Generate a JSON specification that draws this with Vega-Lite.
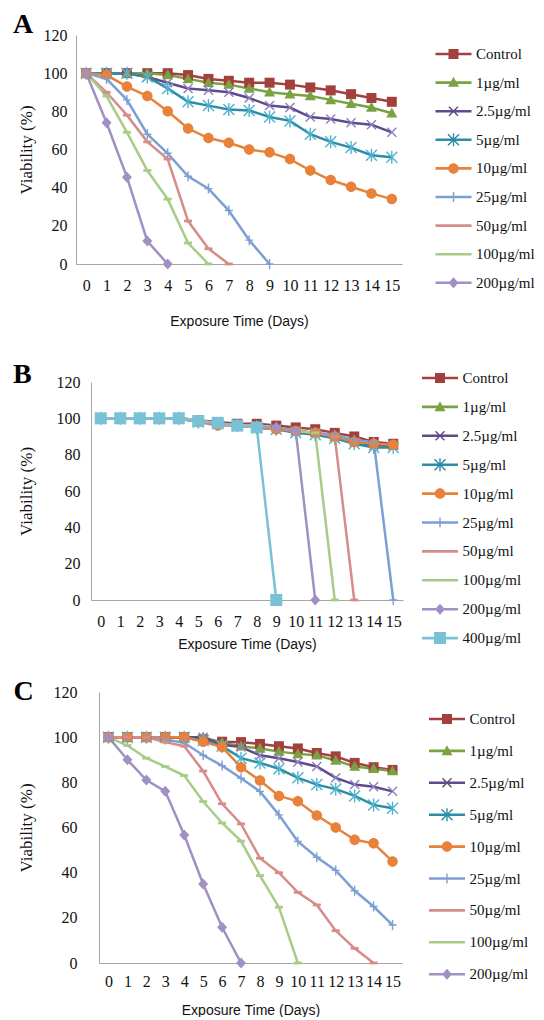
{
"$schema":"https://vega.github.io/schema/vega-lite/v6.json",
"background":"white",
"padding":{"left":0,"top":11,"right":0,"bottom":0},
"config":{"view":{"stroke":null},
"axis":{"domainColor":"#a6a6a6","ticks":false,"grid":false,"labelFont":"Liberation Serif","labelFontSize":16,"labelColor":"#111","titleFontWeight":"normal","titleColor":"#111"},
"axisX":{"titleFont":"Liberation Sans","titleFontSize":14,"labelAngle":0},
"axisY":{"titleFont":"Liberation Serif","titleFontSize":17},
"legend":{"title":null,"padding":0,"labelFont":"Liberation Serif","labelFontSize":15,"labelColor":"#111","symbolSize":100,"symbolStrokeWidth":0,"symbolOffset":14,"labelOffset":15},
"title":{"font":"Liberation Serif","fontSize":28,"fontWeight":"bold","anchor":"start","frame":"bounds","color":"#000","baseline":"alphabetic","dx":-4}},
"datasets":{
"A":[
{"series":"Control","day":0,"viability":100},{"series":"Control","day":1,"viability":100},{"series":"Control","day":2,"viability":100},{"series":"Control","day":3,"viability":100},{"series":"Control","day":4,"viability":100},{"series":"Control","day":5,"viability":99},{"series":"Control","day":6,"viability":97},{"series":"Control","day":7,"viability":96},{"series":"Control","day":8,"viability":95},{"series":"Control","day":9,"viability":95},{"series":"Control","day":10,"viability":94},{"series":"Control","day":11,"viability":92.5},{"series":"Control","day":12,"viability":91},{"series":"Control","day":13,"viability":89},{"series":"Control","day":14,"viability":87},{"series":"Control","day":15,"viability":85},
{"series":"1µg/ml","day":0,"viability":100},{"series":"1µg/ml","day":1,"viability":100},{"series":"1µg/ml","day":2,"viability":100},{"series":"1µg/ml","day":3,"viability":100},{"series":"1µg/ml","day":4,"viability":99},{"series":"1µg/ml","day":5,"viability":97},{"series":"1µg/ml","day":6,"viability":95},{"series":"1µg/ml","day":7,"viability":94},{"series":"1µg/ml","day":8,"viability":92},{"series":"1µg/ml","day":9,"viability":90},{"series":"1µg/ml","day":10,"viability":89},{"series":"1µg/ml","day":11,"viability":88},{"series":"1µg/ml","day":12,"viability":86},{"series":"1µg/ml","day":13,"viability":84},{"series":"1µg/ml","day":14,"viability":82},{"series":"1µg/ml","day":15,"viability":79},
{"series":"2.5µg/ml","day":0,"viability":100},{"series":"2.5µg/ml","day":1,"viability":100},{"series":"2.5µg/ml","day":2,"viability":100},{"series":"2.5µg/ml","day":3,"viability":98},{"series":"2.5µg/ml","day":4,"viability":95},{"series":"2.5µg/ml","day":5,"viability":92},{"series":"2.5µg/ml","day":6,"viability":91},{"series":"2.5µg/ml","day":7,"viability":90},{"series":"2.5µg/ml","day":8,"viability":87},{"series":"2.5µg/ml","day":9,"viability":83},{"series":"2.5µg/ml","day":10,"viability":82},{"series":"2.5µg/ml","day":11,"viability":77},{"series":"2.5µg/ml","day":12,"viability":76},{"series":"2.5µg/ml","day":13,"viability":74},{"series":"2.5µg/ml","day":14,"viability":73},{"series":"2.5µg/ml","day":15,"viability":69},
{"series":"5µg/ml","day":0,"viability":100},{"series":"5µg/ml","day":1,"viability":100},{"series":"5µg/ml","day":2,"viability":100},{"series":"5µg/ml","day":3,"viability":98},{"series":"5µg/ml","day":4,"viability":92},{"series":"5µg/ml","day":5,"viability":85},{"series":"5µg/ml","day":6,"viability":83},{"series":"5µg/ml","day":7,"viability":81},{"series":"5µg/ml","day":8,"viability":80.5},{"series":"5µg/ml","day":9,"viability":77},{"series":"5µg/ml","day":10,"viability":75},{"series":"5µg/ml","day":11,"viability":68},{"series":"5µg/ml","day":12,"viability":64},{"series":"5µg/ml","day":13,"viability":61},{"series":"5µg/ml","day":14,"viability":57},{"series":"5µg/ml","day":15,"viability":56},
{"series":"10µg/ml","day":0,"viability":100},{"series":"10µg/ml","day":1,"viability":99},{"series":"10µg/ml","day":2,"viability":93},{"series":"10µg/ml","day":3,"viability":88},{"series":"10µg/ml","day":4,"viability":80},{"series":"10µg/ml","day":5,"viability":71},{"series":"10µg/ml","day":6,"viability":66},{"series":"10µg/ml","day":7,"viability":63.5},{"series":"10µg/ml","day":8,"viability":60},{"series":"10µg/ml","day":9,"viability":58.5},{"series":"10µg/ml","day":10,"viability":55},{"series":"10µg/ml","day":11,"viability":49},{"series":"10µg/ml","day":12,"viability":44},{"series":"10µg/ml","day":13,"viability":40.5},{"series":"10µg/ml","day":14,"viability":37},{"series":"10µg/ml","day":15,"viability":34},
{"series":"25µg/ml","day":0,"viability":100},{"series":"25µg/ml","day":1,"viability":97},{"series":"25µg/ml","day":2,"viability":86},{"series":"25µg/ml","day":3,"viability":68},{"series":"25µg/ml","day":4,"viability":58},{"series":"25µg/ml","day":5,"viability":46},{"series":"25µg/ml","day":6,"viability":39.5},{"series":"25µg/ml","day":7,"viability":28},{"series":"25µg/ml","day":8,"viability":12.5},{"series":"25µg/ml","day":9,"viability":0},
{"series":"50µg/ml","day":0,"viability":100},{"series":"50µg/ml","day":1,"viability":90},{"series":"50µg/ml","day":2,"viability":78},{"series":"50µg/ml","day":3,"viability":64},{"series":"50µg/ml","day":4,"viability":55},{"series":"50µg/ml","day":5,"viability":22.5},{"series":"50µg/ml","day":6,"viability":8},{"series":"50µg/ml","day":7,"viability":0},
{"series":"100µg/ml","day":0,"viability":100},{"series":"100µg/ml","day":1,"viability":88},{"series":"100µg/ml","day":2,"viability":69},{"series":"100µg/ml","day":3,"viability":49},{"series":"100µg/ml","day":4,"viability":34},{"series":"100µg/ml","day":5,"viability":11},{"series":"100µg/ml","day":6,"viability":0},
{"series":"200µg/ml","day":0,"viability":100},{"series":"200µg/ml","day":1,"viability":74},{"series":"200µg/ml","day":2,"viability":45.5},{"series":"200µg/ml","day":3,"viability":12},{"series":"200µg/ml","day":4,"viability":0}
],
"B":[
{"series":"Control","day":0,"viability":100},{"series":"Control","day":1,"viability":100},{"series":"Control","day":2,"viability":100},{"series":"Control","day":3,"viability":100},{"series":"Control","day":4,"viability":100},{"series":"Control","day":5,"viability":99},{"series":"Control","day":6,"viability":98},{"series":"Control","day":7,"viability":97},{"series":"Control","day":8,"viability":97},{"series":"Control","day":9,"viability":96},{"series":"Control","day":10,"viability":95},{"series":"Control","day":11,"viability":94},{"series":"Control","day":12,"viability":92},{"series":"Control","day":13,"viability":90},{"series":"Control","day":14,"viability":87},{"series":"Control","day":15,"viability":86},
{"series":"1µg/ml","day":0,"viability":100},{"series":"1µg/ml","day":1,"viability":100},{"series":"1µg/ml","day":2,"viability":100},{"series":"1µg/ml","day":3,"viability":100},{"series":"1µg/ml","day":4,"viability":100},{"series":"1µg/ml","day":5,"viability":99},{"series":"1µg/ml","day":6,"viability":97},{"series":"1µg/ml","day":7,"viability":96},{"series":"1µg/ml","day":8,"viability":96},{"series":"1µg/ml","day":9,"viability":95},{"series":"1µg/ml","day":10,"viability":93},{"series":"1µg/ml","day":11,"viability":92},{"series":"1µg/ml","day":12,"viability":90},{"series":"1µg/ml","day":13,"viability":88},{"series":"1µg/ml","day":14,"viability":86},{"series":"1µg/ml","day":15,"viability":85},
{"series":"2.5µg/ml","day":0,"viability":100},{"series":"2.5µg/ml","day":1,"viability":100},{"series":"2.5µg/ml","day":2,"viability":100},{"series":"2.5µg/ml","day":3,"viability":100},{"series":"2.5µg/ml","day":4,"viability":100},{"series":"2.5µg/ml","day":5,"viability":98},{"series":"2.5µg/ml","day":6,"viability":97},{"series":"2.5µg/ml","day":7,"viability":96},{"series":"2.5µg/ml","day":8,"viability":95},{"series":"2.5µg/ml","day":9,"viability":94},{"series":"2.5µg/ml","day":10,"viability":93},{"series":"2.5µg/ml","day":11,"viability":92},{"series":"2.5µg/ml","day":12,"viability":89},{"series":"2.5µg/ml","day":13,"viability":87},{"series":"2.5µg/ml","day":14,"viability":85},{"series":"2.5µg/ml","day":15,"viability":85},
{"series":"5µg/ml","day":0,"viability":100},{"series":"5µg/ml","day":1,"viability":100},{"series":"5µg/ml","day":2,"viability":100},{"series":"5µg/ml","day":3,"viability":100},{"series":"5µg/ml","day":4,"viability":100},{"series":"5µg/ml","day":5,"viability":98},{"series":"5µg/ml","day":6,"viability":97},{"series":"5µg/ml","day":7,"viability":96},{"series":"5µg/ml","day":8,"viability":95},{"series":"5µg/ml","day":9,"viability":94},{"series":"5µg/ml","day":10,"viability":92},{"series":"5µg/ml","day":11,"viability":91},{"series":"5µg/ml","day":12,"viability":89},{"series":"5µg/ml","day":13,"viability":86},{"series":"5µg/ml","day":14,"viability":84},{"series":"5µg/ml","day":15,"viability":84},
{"series":"10µg/ml","day":0,"viability":100},{"series":"10µg/ml","day":1,"viability":100},{"series":"10µg/ml","day":2,"viability":100},{"series":"10µg/ml","day":3,"viability":100},{"series":"10µg/ml","day":4,"viability":100},{"series":"10µg/ml","day":5,"viability":98},{"series":"10µg/ml","day":6,"viability":96},{"series":"10µg/ml","day":7,"viability":96},{"series":"10µg/ml","day":8,"viability":95},{"series":"10µg/ml","day":9,"viability":94},{"series":"10µg/ml","day":10,"viability":93},{"series":"10µg/ml","day":11,"viability":92},{"series":"10µg/ml","day":12,"viability":90},{"series":"10µg/ml","day":13,"viability":87},{"series":"10µg/ml","day":14,"viability":86},{"series":"10µg/ml","day":15,"viability":85.5},
{"series":"25µg/ml","day":0,"viability":100},{"series":"25µg/ml","day":1,"viability":100},{"series":"25µg/ml","day":2,"viability":100},{"series":"25µg/ml","day":3,"viability":100},{"series":"25µg/ml","day":4,"viability":100},{"series":"25µg/ml","day":5,"viability":99},{"series":"25µg/ml","day":6,"viability":97},{"series":"25µg/ml","day":7,"viability":96},{"series":"25µg/ml","day":8,"viability":96},{"series":"25µg/ml","day":9,"viability":95},{"series":"25µg/ml","day":10,"viability":93},{"series":"25µg/ml","day":11,"viability":92},{"series":"25µg/ml","day":12,"viability":91},{"series":"25µg/ml","day":13,"viability":88},{"series":"25µg/ml","day":14,"viability":87},{"series":"25µg/ml","day":15,"viability":0},
{"series":"50µg/ml","day":0,"viability":100},{"series":"50µg/ml","day":1,"viability":100},{"series":"50µg/ml","day":2,"viability":100},{"series":"50µg/ml","day":3,"viability":100},{"series":"50µg/ml","day":4,"viability":100},{"series":"50µg/ml","day":5,"viability":99},{"series":"50µg/ml","day":6,"viability":97},{"series":"50µg/ml","day":7,"viability":96},{"series":"50µg/ml","day":8,"viability":96},{"series":"50µg/ml","day":9,"viability":95},{"series":"50µg/ml","day":10,"viability":93},{"series":"50µg/ml","day":11,"viability":92},{"series":"50µg/ml","day":12,"viability":90},{"series":"50µg/ml","day":13,"viability":0},
{"series":"100µg/ml","day":0,"viability":100},{"series":"100µg/ml","day":1,"viability":100},{"series":"100µg/ml","day":2,"viability":100},{"series":"100µg/ml","day":3,"viability":100},{"series":"100µg/ml","day":4,"viability":100},{"series":"100µg/ml","day":5,"viability":99},{"series":"100µg/ml","day":6,"viability":97},{"series":"100µg/ml","day":7,"viability":96},{"series":"100µg/ml","day":8,"viability":96},{"series":"100µg/ml","day":9,"viability":95},{"series":"100µg/ml","day":10,"viability":93},{"series":"100µg/ml","day":11,"viability":92},{"series":"100µg/ml","day":12,"viability":0},
{"series":"200µg/ml","day":0,"viability":100},{"series":"200µg/ml","day":1,"viability":100},{"series":"200µg/ml","day":2,"viability":100},{"series":"200µg/ml","day":3,"viability":100},{"series":"200µg/ml","day":4,"viability":100},{"series":"200µg/ml","day":5,"viability":98},{"series":"200µg/ml","day":6,"viability":97},{"series":"200µg/ml","day":7,"viability":96},{"series":"200µg/ml","day":8,"viability":95},{"series":"200µg/ml","day":9,"viability":95},{"series":"200µg/ml","day":10,"viability":93},{"series":"200µg/ml","day":11,"viability":0},
{"series":"400µg/ml","day":0,"viability":100},{"series":"400µg/ml","day":1,"viability":100},{"series":"400µg/ml","day":2,"viability":100},{"series":"400µg/ml","day":3,"viability":100},{"series":"400µg/ml","day":4,"viability":100},{"series":"400µg/ml","day":5,"viability":98.5},{"series":"400µg/ml","day":6,"viability":97.5},{"series":"400µg/ml","day":7,"viability":96},{"series":"400µg/ml","day":8,"viability":95},{"series":"400µg/ml","day":9,"viability":0}
],
"C":[
{"series":"Control","day":0,"viability":100},{"series":"Control","day":1,"viability":100},{"series":"Control","day":2,"viability":100},{"series":"Control","day":3,"viability":100},{"series":"Control","day":4,"viability":100},{"series":"Control","day":5,"viability":99},{"series":"Control","day":6,"viability":98},{"series":"Control","day":7,"viability":97.8},{"series":"Control","day":8,"viability":97},{"series":"Control","day":9,"viability":96},{"series":"Control","day":10,"viability":95},{"series":"Control","day":11,"viability":93},{"series":"Control","day":12,"viability":91.5},{"series":"Control","day":13,"viability":88.6},{"series":"Control","day":14,"viability":86.7},{"series":"Control","day":15,"viability":85.5},
{"series":"1µg/ml","day":0,"viability":100},{"series":"1µg/ml","day":1,"viability":100},{"series":"1µg/ml","day":2,"viability":100},{"series":"1µg/ml","day":3,"viability":100},{"series":"1µg/ml","day":4,"viability":100},{"series":"1µg/ml","day":5,"viability":100},{"series":"1µg/ml","day":6,"viability":97.5},{"series":"1µg/ml","day":7,"viability":96},{"series":"1µg/ml","day":8,"viability":95},{"series":"1µg/ml","day":9,"viability":93.6},{"series":"1µg/ml","day":10,"viability":92.6},{"series":"1µg/ml","day":11,"viability":92},{"series":"1µg/ml","day":12,"viability":89.7},{"series":"1µg/ml","day":13,"viability":87},{"series":"1µg/ml","day":14,"viability":86},{"series":"1µg/ml","day":15,"viability":85},
{"series":"2.5µg/ml","day":0,"viability":100},{"series":"2.5µg/ml","day":1,"viability":100},{"series":"2.5µg/ml","day":2,"viability":100},{"series":"2.5µg/ml","day":3,"viability":100},{"series":"2.5µg/ml","day":4,"viability":100},{"series":"2.5µg/ml","day":5,"viability":100},{"series":"2.5µg/ml","day":6,"viability":96.6},{"series":"2.5µg/ml","day":7,"viability":95.6},{"series":"2.5µg/ml","day":8,"viability":92},{"series":"2.5µg/ml","day":9,"viability":90.7},{"series":"2.5µg/ml","day":10,"viability":89},{"series":"2.5µg/ml","day":11,"viability":87},{"series":"2.5µg/ml","day":12,"viability":82},{"series":"2.5µg/ml","day":13,"viability":79},{"series":"2.5µg/ml","day":14,"viability":78},{"series":"2.5µg/ml","day":15,"viability":76},
{"series":"5µg/ml","day":0,"viability":100},{"series":"5µg/ml","day":1,"viability":100},{"series":"5µg/ml","day":2,"viability":100},{"series":"5µg/ml","day":3,"viability":100},{"series":"5µg/ml","day":4,"viability":100},{"series":"5µg/ml","day":5,"viability":98.5},{"series":"5µg/ml","day":6,"viability":96},{"series":"5µg/ml","day":7,"viability":90.7},{"series":"5µg/ml","day":8,"viability":88.6},{"series":"5µg/ml","day":9,"viability":86},{"series":"5µg/ml","day":10,"viability":82},{"series":"5µg/ml","day":11,"viability":79},{"series":"5µg/ml","day":12,"viability":77},{"series":"5µg/ml","day":13,"viability":74},{"series":"5µg/ml","day":14,"viability":70},{"series":"5µg/ml","day":15,"viability":68.5},
{"series":"10µg/ml","day":0,"viability":100},{"series":"10µg/ml","day":1,"viability":100},{"series":"10µg/ml","day":2,"viability":100},{"series":"10µg/ml","day":3,"viability":100},{"series":"10µg/ml","day":4,"viability":100},{"series":"10µg/ml","day":5,"viability":98},{"series":"10µg/ml","day":6,"viability":95.6},{"series":"10µg/ml","day":7,"viability":86.7},{"series":"10µg/ml","day":8,"viability":80.8},{"series":"10µg/ml","day":9,"viability":74},{"series":"10µg/ml","day":10,"viability":71.6},{"series":"10µg/ml","day":11,"viability":65.3},{"series":"10µg/ml","day":12,"viability":60},{"series":"10µg/ml","day":13,"viability":54.6},{"series":"10µg/ml","day":14,"viability":53},{"series":"10µg/ml","day":15,"viability":45},
{"series":"25µg/ml","day":0,"viability":100},{"series":"25µg/ml","day":1,"viability":100},{"series":"25µg/ml","day":2,"viability":100},{"series":"25µg/ml","day":3,"viability":99},{"series":"25µg/ml","day":4,"viability":97.5},{"series":"25µg/ml","day":5,"viability":92},{"series":"25µg/ml","day":6,"viability":87.4},{"series":"25µg/ml","day":7,"viability":81.8},{"series":"25µg/ml","day":8,"viability":76},{"series":"25µg/ml","day":9,"viability":65.6},{"series":"25µg/ml","day":10,"viability":53.8},{"series":"25µg/ml","day":11,"viability":46.8},{"series":"25µg/ml","day":12,"viability":41},{"series":"25µg/ml","day":13,"viability":32},{"series":"25µg/ml","day":14,"viability":25},{"series":"25µg/ml","day":15,"viability":16.8},
{"series":"50µg/ml","day":0,"viability":100},{"series":"50µg/ml","day":1,"viability":100},{"series":"50µg/ml","day":2,"viability":100},{"series":"50µg/ml","day":3,"viability":97.8},{"series":"50µg/ml","day":4,"viability":96},{"series":"50µg/ml","day":5,"viability":85},{"series":"50µg/ml","day":6,"viability":70.5},{"series":"50µg/ml","day":7,"viability":61.6},{"series":"50µg/ml","day":8,"viability":46.4},{"series":"50µg/ml","day":9,"viability":40},{"series":"50µg/ml","day":10,"viability":31.3},{"series":"50µg/ml","day":11,"viability":25.7},{"series":"50µg/ml","day":12,"viability":14.3},{"series":"50µg/ml","day":13,"viability":6.5},{"series":"50µg/ml","day":14,"viability":0},
{"series":"100µg/ml","day":0,"viability":100},{"series":"100µg/ml","day":1,"viability":96.3},{"series":"100µg/ml","day":2,"viability":90.7},{"series":"100µg/ml","day":3,"viability":87},{"series":"100µg/ml","day":4,"viability":83},{"series":"100µg/ml","day":5,"viability":71.5},{"series":"100µg/ml","day":6,"viability":62},{"series":"100µg/ml","day":7,"viability":54},{"series":"100µg/ml","day":8,"viability":38.7},{"series":"100µg/ml","day":9,"viability":24.7},{"series":"100µg/ml","day":10,"viability":0},
{"series":"200µg/ml","day":0,"viability":100},{"series":"200µg/ml","day":1,"viability":90},{"series":"200µg/ml","day":2,"viability":81},{"series":"200µg/ml","day":3,"viability":76},{"series":"200µg/ml","day":4,"viability":56.7},{"series":"200µg/ml","day":5,"viability":35},{"series":"200µg/ml","day":6,"viability":15.8},{"series":"200µg/ml","day":7,"viability":0}
]},
"vconcat":[
{"hconcat":[{"width":12.5,"height":1,"data":{"values":[]},"mark":"point"},
{"title":{"text":"A","offset":-12},"width":326,"height":229,"data":{"name":"A"},
"encoding":{"x":{"field":"day","type":"ordinal","scale":{"type":"point","padding":0.5},"axis":{"title":["Exposure Time (Days)"," "],"titleLineHeight":6,"labelFont":"Liberation Serif","labelPadding":13,"titlePadding":21}},
"y":{"field":"viability","type":"quantitative","scale":{"domain":[0,120],"nice":false},"axis":{"title":"Viability (%)","titleFont":"Liberation Serif","labelFont":"Liberation Serif","values":[0,20,40,60,80,100,120],"labelPadding":9,"titlePadding":8}}},
"layer":[
{"mark":{"type":"line","strokeWidth":2.5},"encoding":{"detail":{"field":"series"},"color":{"condition":[{"test":"datum.series==='Control'","value":"#a33f3d"},{"test":"datum.series==='1µg/ml'","value":"#79a342"},{"test":"datum.series==='2.5µg/ml'","value":"#5f4b8b"},{"test":"datum.series==='5µg/ml'","value":"#2e8ca5"},{"test":"datum.series==='10µg/ml'","value":"#e8823a"},{"test":"datum.series==='25µg/ml'","value":"#7c9fd4"},{"test":"datum.series==='50µg/ml'","value":"#d68c89"},{"test":"datum.series==='100µg/ml'","value":"#a8cc88"}],"value":"#a090c4"}}},
{"mark":{"type":"point","filled":true,"size":100,"opacity":1},"encoding":{
"color":{"condition":[{"test":"datum.series==='Control'","value":"#a33f3d"},{"test":"datum.series==='1µg/ml'","value":"#79a342"},{"test":"datum.series==='2.5µg/ml'","value":"#8f7fbf"},{"test":"datum.series==='5µg/ml'","value":"#4fb3cf"},{"test":"datum.series==='10µg/ml'","value":"#e8823a"},{"test":"datum.series==='25µg/ml'","value":"#7c9fd4"},{"test":"datum.series==='50µg/ml'","value":"#d68c89"},{"test":"datum.series==='100µg/ml'","value":"#a8cc88"}],"value":"#a090c4"},
"shape":{"condition":[{"test":"datum.series==='Control'","value":"M-1,-1H1V1H-1Z"},{"test":"datum.series==='1µg/ml'","value":"M0,-1.15L1.1,0.85H-1.1Z"},{"test":"datum.series==='2.5µg/ml'","value":"M-1,-0.8L-0.8,-1L1,0.8L0.8,1Z M-1,0.8L0.8,-1L1,-0.8L-0.8,1Z"},{"test":"datum.series==='5µg/ml'","value":"M-1.2,-1L-1,-1.2L1.2,1L1,1.2Z M-1.2,1L1,-1.2L1.2,-1L-1,1.2Z M-0.14,-1.3H0.14V1.3H-0.14Z"},{"test":"datum.series==='10µg/ml'","value":"M1.05,0A1.05,1.05 0 1,1 -1.05,0A1.05,1.05 0 1,1 1.05,0Z"},{"test":"datum.series==='25µg/ml'","value":"M-0.14,-1H0.14V1H-0.14Z M-0.8,-0.14H0.8V0.14H-0.8Z"},{"test":"datum.series==='50µg/ml'","value":"M-0.8,-0.28H0.8V0.28H-0.8Z"},{"test":"datum.series==='100µg/ml'","value":"M-0.8,-0.28H0.8V0.28H-0.8Z"}],"value":"M0,-1.1L1,0L0,1.1L-1,0Z"}}},
{"transform":[{"filter":"false"}],"mark":{"type":"point","filled":true,"size":100,"opacity":1},"encoding":{
"color":{"field":"series","type":"nominal","scale":{"domain":["Control","1µg/ml","2.5µg/ml","5µg/ml","10µg/ml","25µg/ml","50µg/ml","100µg/ml","200µg/ml"],"range":["#a33f3d","#79a342","#5f4b8b","#2e8ca5","#e8823a","#7c9fd4","#d68c89","#a8cc88","#a090c4"]},"legend":{"orient":"none","legendX":432,"legendY":11.5,"rowPadding":12.6}},
"shape":{"field":"series","type":"nominal","scale":{"domain":["Control","1µg/ml","2.5µg/ml","5µg/ml","10µg/ml","25µg/ml","50µg/ml","100µg/ml","200µg/ml"],"range":["M-1,-1H1V1H-1Z M-3.6,-0.26H3.6V0.26H-3.6Z","M0,-1.15L1.1,0.85H-1.1Z M-3.6,-0.26H3.6V0.26H-3.6Z","M-1,-0.8L-0.8,-1L1,0.8L0.8,1Z M-1,0.8L0.8,-1L1,-0.8L-0.8,1Z M-3.6,-0.26H3.6V0.26H-3.6Z","M-1.2,-1L-1,-1.2L1.2,1L1,1.2Z M-1.2,1L1,-1.2L1.2,-1L-1,1.2Z M-0.14,-1.3H0.14V1.3H-0.14Z M-3.6,-0.26H3.6V0.26H-3.6Z","M1.05,0A1.05,1.05 0 1,1 -1.05,0A1.05,1.05 0 1,1 1.05,0Z M-3.6,-0.26H3.6V0.26H-3.6Z","M-0.14,-1H0.14V1H-0.14Z M-0.8,-0.14H0.8V0.14H-0.8Z M-3.6,-0.26H3.6V0.26H-3.6Z","M-3.6,-0.26H3.6V0.26H-3.6Z","M-3.6,-0.26H3.6V0.26H-3.6Z","M0,-1.1L1,0L0,1.1L-1,0Z M-3.6,-0.26H3.6V0.26H-3.6Z"]},"legend":{"orient":"none","legendX":432,"legendY":11.5,"rowPadding":12.6}}}}
]}],"spacing":0},
{"hconcat":[{"width":12.5,"height":1,"data":{"values":[]},"mark":"point"},
{"title":{"text":"B","offset":-15},"width":312,"height":218,"data":{"name":"B"},
"encoding":{"x":{"field":"day","type":"ordinal","scale":{"type":"point","padding":0.5},"axis":{"title":"Exposure Time (Days)","labelFont":"Liberation Serif","labelPadding":13,"titlePadding":8}},
"y":{"field":"viability","type":"quantitative","scale":{"domain":[0,120],"nice":false},"axis":{"title":"Viability (%)","titleFont":"Liberation Serif","labelFont":"Liberation Serif","values":[0,20,40,60,80,100,120],"labelPadding":11,"titlePadding":21}}},
"layer":[
{"mark":{"type":"line","strokeWidth":2.5},"encoding":{"detail":{"field":"series"},"color":{"condition":[{"test":"datum.series==='Control'","value":"#a33f3d"},{"test":"datum.series==='1µg/ml'","value":"#79a342"},{"test":"datum.series==='2.5µg/ml'","value":"#5f4b8b"},{"test":"datum.series==='5µg/ml'","value":"#2e8ca5"},{"test":"datum.series==='10µg/ml'","value":"#e8823a"},{"test":"datum.series==='25µg/ml'","value":"#7c9fd4"},{"test":"datum.series==='50µg/ml'","value":"#d68c89"},{"test":"datum.series==='100µg/ml'","value":"#a8cc88"},{"test":"datum.series==='200µg/ml'","value":"#a090c4"}],"value":"#79c1d4"}}},
{"mark":{"type":"point","filled":true,"size":100,"opacity":1},"encoding":{
"color":{"condition":[{"test":"datum.series==='Control'","value":"#a33f3d"},{"test":"datum.series==='1µg/ml'","value":"#79a342"},{"test":"datum.series==='2.5µg/ml'","value":"#8f7fbf"},{"test":"datum.series==='5µg/ml'","value":"#4fb3cf"},{"test":"datum.series==='10µg/ml'","value":"#e8823a"},{"test":"datum.series==='25µg/ml'","value":"#7c9fd4"},{"test":"datum.series==='50µg/ml'","value":"#d68c89"},{"test":"datum.series==='100µg/ml'","value":"#a8cc88"},{"test":"datum.series==='200µg/ml'","value":"#a090c4"}],"value":"#79c1d4"},
"shape":{"condition":[{"test":"datum.series==='Control'","value":"M-1,-1H1V1H-1Z"},{"test":"datum.series==='1µg/ml'","value":"M0,-1.15L1.1,0.85H-1.1Z"},{"test":"datum.series==='2.5µg/ml'","value":"M-1,-0.8L-0.8,-1L1,0.8L0.8,1Z M-1,0.8L0.8,-1L1,-0.8L-0.8,1Z"},{"test":"datum.series==='5µg/ml'","value":"M-1.2,-1L-1,-1.2L1.2,1L1,1.2Z M-1.2,1L1,-1.2L1.2,-1L-1,1.2Z M-0.14,-1.3H0.14V1.3H-0.14Z"},{"test":"datum.series==='10µg/ml'","value":"M1.05,0A1.05,1.05 0 1,1 -1.05,0A1.05,1.05 0 1,1 1.05,0Z"},{"test":"datum.series==='25µg/ml'","value":"M-0.14,-1H0.14V1H-0.14Z M-0.8,-0.14H0.8V0.14H-0.8Z"},{"test":"datum.series==='50µg/ml'","value":"M-0.8,-0.28H0.8V0.28H-0.8Z"},{"test":"datum.series==='100µg/ml'","value":"M-0.8,-0.28H0.8V0.28H-0.8Z"},{"test":"datum.series==='200µg/ml'","value":"M0,-1.1L1,0L0,1.1L-1,0Z"}],"value":"M-1.2,-1.2H1.2V1.2H-1.2Z"}}},
{"transform":[{"filter":"false"}],"mark":{"type":"point","filled":true,"size":100,"opacity":1},"encoding":{
"color":{"field":"series","type":"nominal","scale":{"domain":["Control","1µg/ml","2.5µg/ml","5µg/ml","10µg/ml","25µg/ml","50µg/ml","100µg/ml","200µg/ml","400µg/ml"],"range":["#a33f3d","#79a342","#5f4b8b","#2e8ca5","#e8823a","#7c9fd4","#d68c89","#a8cc88","#a090c4","#79c1d4"]},"legend":{"orient":"none","legendX":418.5,"legendY":-11.5,"rowPadding":12.9}},
"shape":{"field":"series","type":"nominal","scale":{"domain":["Control","1µg/ml","2.5µg/ml","5µg/ml","10µg/ml","25µg/ml","50µg/ml","100µg/ml","200µg/ml","400µg/ml"],"range":["M-1,-1H1V1H-1Z M-3.6,-0.26H3.6V0.26H-3.6Z","M0,-1.15L1.1,0.85H-1.1Z M-3.6,-0.26H3.6V0.26H-3.6Z","M-1,-0.8L-0.8,-1L1,0.8L0.8,1Z M-1,0.8L0.8,-1L1,-0.8L-0.8,1Z M-3.6,-0.26H3.6V0.26H-3.6Z","M-1.2,-1L-1,-1.2L1.2,1L1,1.2Z M-1.2,1L1,-1.2L1.2,-1L-1,1.2Z M-0.14,-1.3H0.14V1.3H-0.14Z M-3.6,-0.26H3.6V0.26H-3.6Z","M1.05,0A1.05,1.05 0 1,1 -1.05,0A1.05,1.05 0 1,1 1.05,0Z M-3.6,-0.26H3.6V0.26H-3.6Z","M-0.14,-1H0.14V1H-0.14Z M-0.8,-0.14H0.8V0.14H-0.8Z M-3.6,-0.26H3.6V0.26H-3.6Z","M-3.6,-0.26H3.6V0.26H-3.6Z","M-3.6,-0.26H3.6V0.26H-3.6Z","M0,-1.1L1,0L0,1.1L-1,0Z M-3.6,-0.26H3.6V0.26H-3.6Z","M-1.2,-1.2H1.2V1.2H-1.2Z M-3.6,-0.26H3.6V0.26H-3.6Z"]},"legend":{"orient":"none","legendX":418.5,"legendY":-11.5,"rowPadding":12.9}}}}
]}],"spacing":0},
{"hconcat":[{"width":12.5,"height":1,"data":{"values":[]},"mark":"point"},
{"title":{"text":"C","offset":-22},"width":303,"height":271,"data":{"name":"C"},
"encoding":{"x":{"field":"day","type":"ordinal","scale":{"type":"point","padding":0.5},"axis":{"title":"Exposure Time (Days)","labelFont":"Liberation Serif","labelPadding":10,"titlePadding":14}},
"y":{"field":"viability","type":"quantitative","scale":{"domain":[0,120],"nice":false},"axis":{"title":"Viability (%)","titleFont":"Liberation Serif","labelFont":"Liberation Serif","values":[0,20,40,60,80,100,120],"labelPadding":22,"titlePadding":17.5}}},
"layer":[
{"mark":{"type":"line","strokeWidth":2.5},"encoding":{"detail":{"field":"series"},"color":{"condition":[{"test":"datum.series==='Control'","value":"#a33f3d"},{"test":"datum.series==='1µg/ml'","value":"#79a342"},{"test":"datum.series==='2.5µg/ml'","value":"#5f4b8b"},{"test":"datum.series==='5µg/ml'","value":"#2e8ca5"},{"test":"datum.series==='10µg/ml'","value":"#e8823a"},{"test":"datum.series==='25µg/ml'","value":"#7c9fd4"},{"test":"datum.series==='50µg/ml'","value":"#d68c89"},{"test":"datum.series==='100µg/ml'","value":"#a8cc88"}],"value":"#a090c4"}}},
{"mark":{"type":"point","filled":true,"size":100,"opacity":1},"encoding":{
"color":{"condition":[{"test":"datum.series==='Control'","value":"#a33f3d"},{"test":"datum.series==='1µg/ml'","value":"#79a342"},{"test":"datum.series==='2.5µg/ml'","value":"#8f7fbf"},{"test":"datum.series==='5µg/ml'","value":"#4fb3cf"},{"test":"datum.series==='10µg/ml'","value":"#e8823a"},{"test":"datum.series==='25µg/ml'","value":"#7c9fd4"},{"test":"datum.series==='50µg/ml'","value":"#d68c89"},{"test":"datum.series==='100µg/ml'","value":"#a8cc88"}],"value":"#a090c4"},
"shape":{"condition":[{"test":"datum.series==='Control'","value":"M-1,-1H1V1H-1Z"},{"test":"datum.series==='1µg/ml'","value":"M0,-1.15L1.1,0.85H-1.1Z"},{"test":"datum.series==='2.5µg/ml'","value":"M-1,-0.8L-0.8,-1L1,0.8L0.8,1Z M-1,0.8L0.8,-1L1,-0.8L-0.8,1Z"},{"test":"datum.series==='5µg/ml'","value":"M-1.2,-1L-1,-1.2L1.2,1L1,1.2Z M-1.2,1L1,-1.2L1.2,-1L-1,1.2Z M-0.14,-1.3H0.14V1.3H-0.14Z"},{"test":"datum.series==='10µg/ml'","value":"M1.05,0A1.05,1.05 0 1,1 -1.05,0A1.05,1.05 0 1,1 1.05,0Z"},{"test":"datum.series==='25µg/ml'","value":"M-0.14,-1H0.14V1H-0.14Z M-0.8,-0.14H0.8V0.14H-0.8Z"},{"test":"datum.series==='50µg/ml'","value":"M-0.8,-0.28H0.8V0.28H-0.8Z"},{"test":"datum.series==='100µg/ml'","value":"M-0.8,-0.28H0.8V0.28H-0.8Z"}],"value":"M0,-1.1L1,0L0,1.1L-1,0Z"}}},
{"transform":[{"filter":"false"}],"mark":{"type":"point","filled":true,"size":100,"opacity":1},"encoding":{
"color":{"field":"series","type":"nominal","scale":{"domain":["Control","1µg/ml","2.5µg/ml","5µg/ml","10µg/ml","25µg/ml","50µg/ml","100µg/ml","200µg/ml"],"range":["#a33f3d","#79a342","#5f4b8b","#2e8ca5","#e8823a","#7c9fd4","#d68c89","#a8cc88","#a090c4"]},"legend":{"orient":"none","legendX":425.5,"legendY":19.5,"rowPadding":15.9}},
"shape":{"field":"series","type":"nominal","scale":{"domain":["Control","1µg/ml","2.5µg/ml","5µg/ml","10µg/ml","25µg/ml","50µg/ml","100µg/ml","200µg/ml"],"range":["M-1,-1H1V1H-1Z M-3.6,-0.26H3.6V0.26H-3.6Z","M0,-1.15L1.1,0.85H-1.1Z M-3.6,-0.26H3.6V0.26H-3.6Z","M-1,-0.8L-0.8,-1L1,0.8L0.8,1Z M-1,0.8L0.8,-1L1,-0.8L-0.8,1Z M-3.6,-0.26H3.6V0.26H-3.6Z","M-1.2,-1L-1,-1.2L1.2,1L1,1.2Z M-1.2,1L1,-1.2L1.2,-1L-1,1.2Z M-0.14,-1.3H0.14V1.3H-0.14Z M-3.6,-0.26H3.6V0.26H-3.6Z","M1.05,0A1.05,1.05 0 1,1 -1.05,0A1.05,1.05 0 1,1 1.05,0Z M-3.6,-0.26H3.6V0.26H-3.6Z","M-0.14,-1H0.14V1H-0.14Z M-0.8,-0.14H0.8V0.14H-0.8Z M-3.6,-0.26H3.6V0.26H-3.6Z","M-3.6,-0.26H3.6V0.26H-3.6Z","M-3.6,-0.26H3.6V0.26H-3.6Z","M0,-1.1L1,0L0,1.1L-1,0Z M-3.6,-0.26H3.6V0.26H-3.6Z"]},"legend":{"orient":"none","legendX":425.5,"legendY":19.5,"rowPadding":15.9}}}}
]}],"spacing":0}
],
"spacing":27,
"resolve":{"scale":{"color":"independent","shape":"independent","x":"independent","y":"independent"},"legend":{"color":"independent","shape":"independent"}}
}
